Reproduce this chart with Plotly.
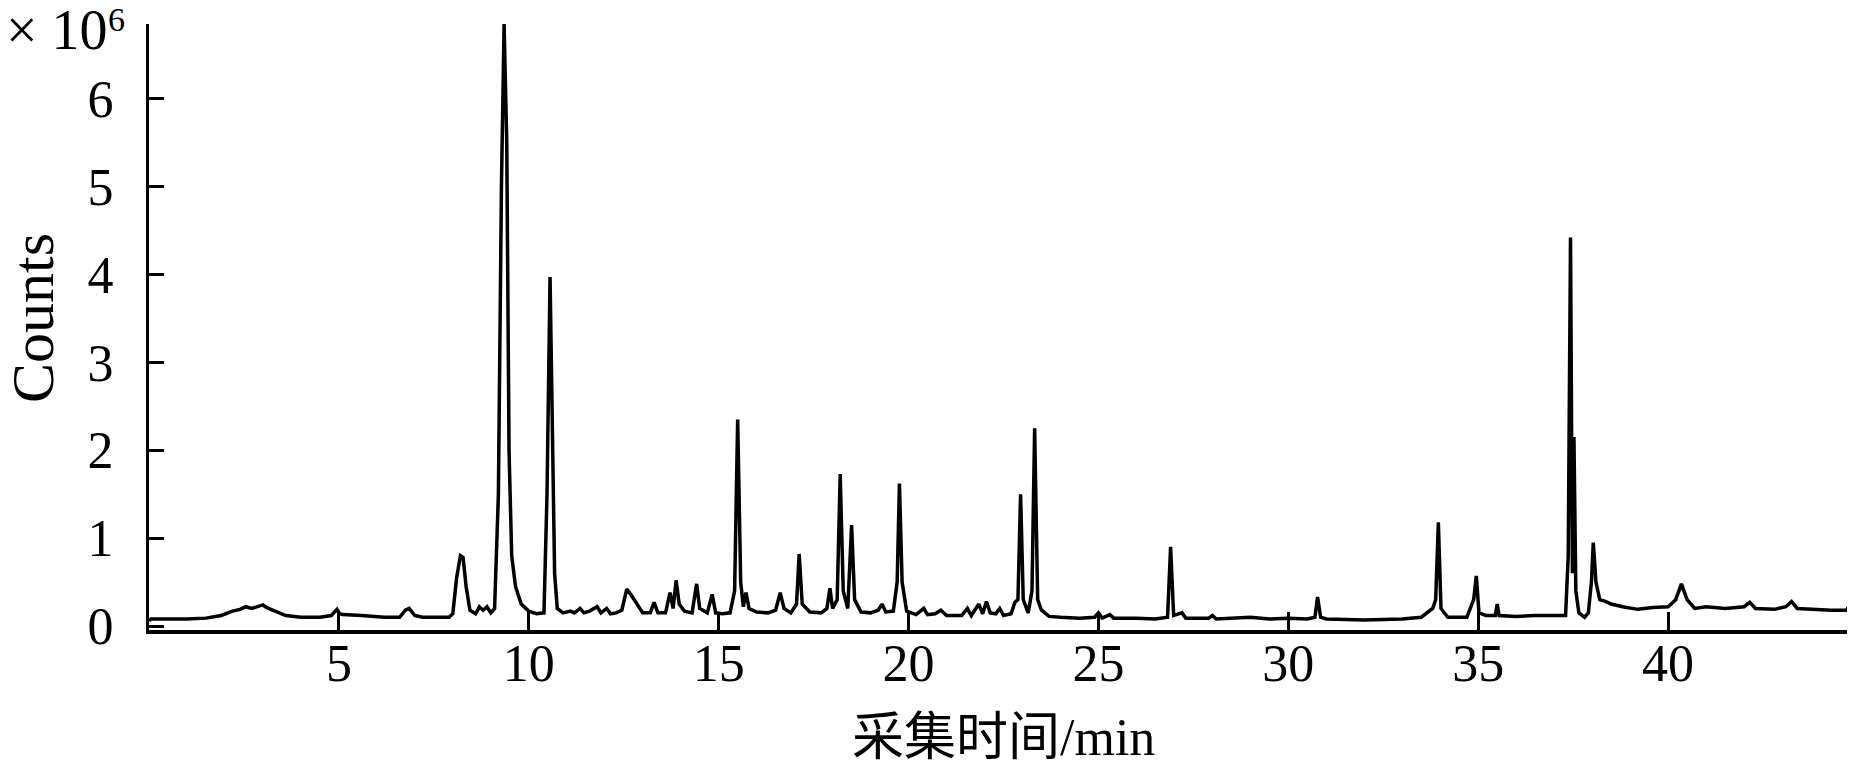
import plotly.graph_objects as go

# Retention time (min) and detector counts (x10^6)
time_min = [
    0.00, 0.05, 1.00, 1.50, 1.90, 2.20, 2.40, 2.55, 2.70, 2.85, 3.00, 3.10, 3.30, 3.60, 4.00,
    4.50, 4.80, 4.95, 5.02, 5.10, 5.60, 6.20, 6.60, 6.75, 6.85, 7.00, 7.20, 7.90, 8.00, 8.10,
    8.20, 8.27, 8.35, 8.45, 8.60, 8.70, 8.80, 8.90, 9.00, 9.10, 9.20, 9.28, 9.35, 9.42, 9.48,
    9.55, 9.65, 9.80, 10.00, 10.20, 10.40, 10.48, 10.56, 10.62, 10.68, 10.75, 10.90, 11.10, 11.20,
    11.35, 11.45, 11.60, 11.80, 11.90, 12.05, 12.15, 12.30, 12.45, 12.58, 12.70, 12.80, 12.90, 13.00,
    13.20, 13.30, 13.40, 13.60, 13.72, 13.80, 13.88, 13.96, 14.10, 14.30, 14.42, 14.50, 14.70, 14.83,
    14.92, 15.10, 15.30, 15.42, 15.50, 15.58, 15.65, 15.72, 15.80, 16.00, 16.30, 16.50, 16.62, 16.72,
    16.90, 17.05, 17.12, 17.20, 17.40, 17.70, 17.85, 17.93, 18.00, 18.12, 18.20, 18.28, 18.40, 18.50,
    18.58, 18.75, 19.00, 19.20, 19.30, 19.40, 19.60, 19.70, 19.76, 19.83, 19.95, 20.20, 20.40, 20.50,
    20.70, 20.85, 21.00, 21.40, 21.55, 21.65, 21.85, 21.95, 22.05, 22.15, 22.30, 22.40, 22.50, 22.70,
    22.80, 22.88, 22.95, 23.02, 23.15, 23.25, 23.32, 23.40, 23.50, 23.70, 24.00, 24.50, 24.90, 25.00,
    25.10, 25.30, 25.40, 26.00, 26.50, 26.82, 26.90, 26.98, 27.20, 27.30, 27.90, 28.00, 28.10, 29.00,
    29.50, 30.00, 30.50, 30.70, 30.77, 30.85, 31.00, 32.00, 33.00, 33.50, 33.80, 33.88, 33.95, 34.02,
    34.20, 34.70, 34.88, 34.95, 35.02, 35.20, 35.45, 35.50, 35.55, 36.00, 36.50, 37.00, 37.30, 37.37,
    37.43, 37.48, 37.52, 37.57, 37.65, 37.80, 37.90, 37.98, 38.03, 38.10, 38.20, 38.35, 38.50, 38.80,
    39.20, 39.60, 40.00, 40.20, 40.35, 40.50, 40.70, 41.00, 41.50, 42.00, 42.15, 42.30, 42.80, 43.10,
    43.25, 43.40, 43.80, 44.30, 44.70, 44.85, 45.00,
]
counts_1e6 = [
    0.06, 0.08, 0.08, 0.09, 0.12, 0.17, 0.19, 0.22, 0.20, 0.22, 0.24, 0.21, 0.17, 0.12, 0.10,
    0.10, 0.12, 0.19, 0.14, 0.13, 0.12, 0.10, 0.10, 0.18, 0.20, 0.12, 0.10, 0.10, 0.14, 0.55,
    0.80, 0.78, 0.45, 0.18, 0.14, 0.22, 0.18, 0.22, 0.15, 0.20, 1.50, 5.00, 6.85, 5.50, 2.00,
    0.80, 0.45, 0.25, 0.17, 0.14, 0.15, 1.50, 3.97, 2.50, 0.60, 0.20, 0.15, 0.17, 0.15,
    0.20, 0.15, 0.17, 0.22, 0.15, 0.20, 0.14, 0.15, 0.18, 0.42, 0.35, 0.28, 0.22, 0.15,
    0.15, 0.27, 0.15, 0.15, 0.38, 0.20, 0.52, 0.25, 0.17, 0.15, 0.48, 0.20, 0.15, 0.36,
    0.15, 0.14, 0.15, 0.40, 2.35, 0.50, 0.22, 0.38, 0.20, 0.16, 0.15, 0.18, 0.38, 0.20,
    0.15, 0.25, 0.82, 0.25, 0.16, 0.15, 0.20, 0.43, 0.20, 0.30, 1.73, 0.40, 0.20, 1.15,
    0.30, 0.16, 0.15, 0.18, 0.25, 0.16, 0.17, 0.50, 1.62, 0.50, 0.17, 0.13, 0.20, 0.13,
    0.14, 0.18, 0.12, 0.12, 0.20, 0.12, 0.25, 0.14, 0.28, 0.15, 0.14, 0.20, 0.12, 0.14,
    0.27, 0.30, 1.50, 0.30, 0.15, 0.40, 2.25, 0.30, 0.18, 0.11, 0.10, 0.09, 0.10, 0.15,
    0.09, 0.13, 0.09, 0.09, 0.08, 0.10, 0.90, 0.12, 0.15, 0.09, 0.09, 0.12, 0.08, 0.10,
    0.08, 0.09, 0.08, 0.10, 0.33, 0.10, 0.08, 0.07, 0.08, 0.10, 0.20, 0.30, 1.18, 0.20,
    0.10, 0.10, 0.30, 0.57, 0.15, 0.12, 0.12, 0.25, 0.12, 0.11, 0.12, 0.12, 0.12, 0.80,
    4.42, 0.60, 2.15, 0.40, 0.15, 0.10, 0.15, 0.50, 0.95, 0.50, 0.30, 0.28, 0.25, 0.22,
    0.19, 0.21, 0.22, 0.30, 0.48, 0.30, 0.20, 0.22, 0.20, 0.22, 0.27, 0.20, 0.19, 0.22,
    0.28, 0.20, 0.19, 0.18, 0.18, 0.30, 0.50,
]

x_tick_vals = [5, 10, 15, 20, 25, 30, 35, 40, 45]
x_tick_text = ["5", "10", "15", "20", "25", "30", "35", "40", " "]
y_tick_vals = [0, 1, 2, 3, 4, 5, 6]
y_tick_text = ["0", "1", "2", "3", "4", "5", "6"]

SERIF = "Liberation Serif, Times New Roman, Noto Sans CJK SC, serif"

fig = go.Figure()
fig.add_trace(go.Scatter(
    x=time_min, y=counts_1e6, mode="lines",
    line=dict(color="black", width=3.5),
    hoverinfo="skip", showlegend=False,
))

W, H = 1855, 765
ML, MR, MT, MB = 141, 5, 16, 143
pw, ph = W - ML - MR, H - MT - MB


def px_x(p):
    return (p - ML) / pw


def px_y(p):
    return (H - MB - p) / ph


fig.update_layout(
    width=W, height=H,
    margin=dict(l=ML, r=MR, t=MT, b=MB, autoexpand=False),
    paper_bgcolor="white", plot_bgcolor="white",
    font=dict(family=SERIF, size=52, color="black"),
    xaxis=dict(
        range=[0, 45], showgrid=False, zeroline=False, automargin=False,
        showline=True, linecolor="black", linewidth=4,
        ticks="inside", ticklen=18, tickwidth=3, tickcolor="black",
        tickvals=x_tick_vals, ticktext=x_tick_text,
        tickfont=dict(family=SERIF, size=52),
        ticklabelstandoff=-15,
    ),
    yaxis=dict(
        range=[-0.045, 6.85], showgrid=False, zeroline=False, automargin=False,
        showline=True, linecolor="black", linewidth=3,
        ticks="inside", ticklen=15, tickwidth=3, tickcolor="black",
        tickvals=y_tick_vals, ticktext=y_tick_text,
        tickfont=dict(family=SERIF, size=52),
        ticklabelstandoff=22,
    ),
    annotations=[
        dict(text="× 10", xref="paper", yref="paper",
             x=px_x(-4), y=px_y(22), xanchor="left", yanchor="middle",
             showarrow=False, font=dict(family=SERIF, size=56)),
        dict(text="6", xref="paper", yref="paper",
             x=px_x(98), y=px_y(12), xanchor="left", yanchor="middle",
             showarrow=False, font=dict(family=SERIF, size=34)),
        dict(text="Counts", xref="paper", yref="paper",
             x=px_x(25), y=px_y(310), xanchor="center", yanchor="middle",
             textangle=-90, showarrow=False, font=dict(family=SERIF, size=60)),
        dict(text="采集时间/min", xref="paper", yref="paper",
             x=0.5, y=px_y(729), xanchor="center", yanchor="middle",
             showarrow=False, font=dict(family=SERIF, size=52)),
    ],
)

fig.write_html("out.html")
